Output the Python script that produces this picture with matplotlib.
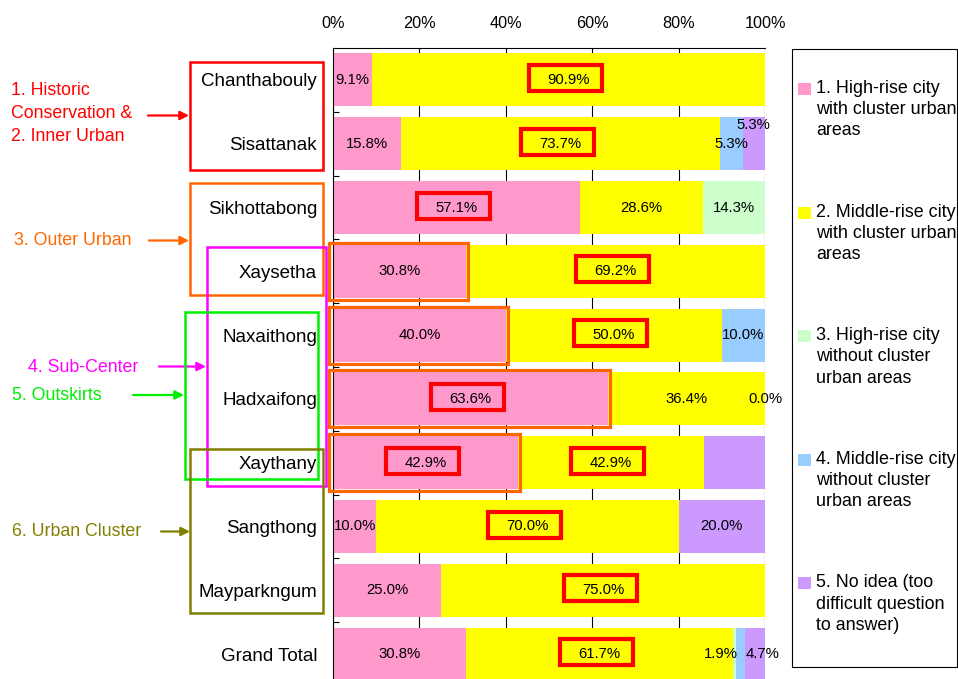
import matplotlib
matplotlib.use("Agg")
import matplotlib.pyplot as plt
from matplotlib.patches import Rectangle, FancyArrowPatch
import numpy as np

plt.rcParams['font.family'] = ['Liberation Sans', 'DejaVu Sans']

# ---- data -------------------------------------------------------------
categories = ["Chanthabouly", "Sisattanak", "Sikhottabong", "Xaysetha", "Naxaithong",
              "Hadxaifong", "Xaythany", "Sangthong", "Mayparkngum", "Grand Total"]

series_names = ["1. High-rise city\nwith cluster urban\nareas",
                "2. Middle-rise city\nwith cluster urban\nareas",
                "3. High-rise city\nwithout cluster\nurban areas",
                "4. Middle-rise city\nwithout cluster\nurban areas",
                "5. No idea (too\ndifficult question\nto answer)"]

high_cluster = [9.1, 15.8, 57.1, 30.8, 40.0, 63.6, 42.9, 10.0, 25.0, 30.8]
mid_cluster = [90.9, 73.7, 28.6, 69.2, 50.0, 36.4, 42.9, 70.0, 75.0, 61.7]
high_no_cluster = [0.0, 0.0, 14.3, 0.0, 0.0, 0.0, 0.0, 0.0, 0.0, 0.9]
mid_no_cluster = [0.0, 5.3, 0.0, 0.0, 10.0, 0.0, 0.0, 0.0, 0.0, 1.9]
no_idea = [0.0, 5.3, 0.0, 0.0, 0.0, 0.0, 14.3, 20.0, 0.0, 4.7]

series_colors = ["#FF99CC", "#FFFF00", "#CCFFCC", "#99CCFF", "#CC99FF"]

tick_values = [0, 20, 40, 60, 80, 100]
tick_labels = ["0%", "20%", "40%", "60%", "80%", "100%"]

# districts belonging to the sub-center group (high-rise share outlined)
subcenter_rows = ["Xaysetha", "Naxaithong", "Hadxaifong", "Xaythany"]

# value labels left out / zero values that still carry a label
hidden_labels = {("Xaythany", 4), ("Grand Total", 2)}
zero_labels = {("Hadxaifong", 3)}
# nudges for crowded labels (pixels)
label_nudge = {("Sisattanak", 4): (-1, 19), ("Grand Total", 3): (-20, 0),
               ("Grand Total", 4): (8, 0)}

# ---- figure -------------------------------------------------------------
W, H = 958, 679
fig = plt.figure(figsize=(W / 100, H / 100), dpi=100)

ax_left, ax_right, ax_top, ax_bottom = 333, 765, 48, 686
ax = fig.add_axes([ax_left / W, 1 - ax_bottom / H,
                   (ax_right - ax_left) / W, (ax_bottom - ax_top) / H])

series = [high_cluster, mid_cluster, high_no_cluster, mid_no_cluster, no_idea]
n = len(categories)
y = np.arange(n)
bar_h = 0.83

lefts = np.zeros(n)
starts = []
for vals, col in zip(series, series_colors):
    vals = np.array(vals)
    ax.barh(y, vals, left=lefts, height=bar_h, color=col, edgecolor='none', zorder=2)
    starts.append(lefts.copy())
    lefts = lefts + vals

ax.set_xlim(0, 100)
ax.set_ylim(n - 0.5, -0.5)

px_x = 100 / (ax_right - ax_left)          # data units per pixel (x)
px_y = n / (ax_bottom - ax_top)            # data units per pixel (y)

# value labels
for s, vals in enumerate(series):
    for i, cat in enumerate(categories):
        v = vals[i]
        if (v <= 0 and (cat, s) not in zero_labels) or (cat, s) in hidden_labels:
            continue
        cx = starts[s][i] + v / 2
        dx, dy = label_nudge.get((cat, s), (0, 0))
        ax.annotate(f"{v:.1f}%", (cx, i), xytext=(dx, dy), textcoords='offset pixels',
                    ha='center', va='center', fontsize=10.7, color='black', zorder=5,
                    annotation_clip=False)

# red frames on the largest share of each row
for i, cat in enumerate(categories):
    row = [vals[i] for vals in series]
    top = max(row)
    for s, v in enumerate(row):
        if v == top:
            cx = starts[s][i] + v / 2 - 3 * px_x
            cy = i - 2 * px_y
            bw, bh = 73 * px_x, 26 * px_y
            ax.add_patch(Rectangle((cx - bw / 2, cy - bh / 2), bw, bh, fill=False,
                                   edgecolor='#FF0000', lw=3, zorder=6, clip_on=False))

# orange outline around the high-rise share of sub-center districts
for cat in subcenter_rows:
    i = categories.index(cat)
    v = high_cluster[i]
    x0 = -4 * px_x
    x1 = v + 2 * px_x
    y0 = i - bar_h / 2 - 2 * px_y
    y1 = i + bar_h / 2 + 2 * px_y
    ax.add_patch(Rectangle((x0, y0), x1 - x0, y1 - y0, fill=False,
                           edgecolor='#FF6600', lw=2.3, zorder=6, clip_on=False))

# axes styling
ax.xaxis.tick_top()
ax.set_xticks(tick_values)
ax.set_xticklabels(tick_labels, fontsize=11.7)
ax.tick_params(axis='x', length=0, pad=12)
ax.xaxis.grid(True, color='black', lw=0.8)
ax.set_axisbelow(True)

ax.set_yticks(y)
ax.set_yticklabels(categories, fontsize=13.5)
ax.tick_params(axis='y', which='major', length=0, pad=11.5)
ax.set_yticks(np.arange(n - 1) + 0.5, minor=True)
ax.tick_params(axis='y', which='minor', direction='in', length=4.5, width=0.8, color='black')

for side in ['right', 'bottom']:
    ax.spines[side].set_visible(False)
for side in ['top', 'left']:
    ax.spines[side].set_color('black')
    ax.spines[side].set_linewidth(0.8)


# ---- helpers in figure pixels (origin top-left) --------------------------
def fxy(x, yy):
    return (x / W, 1 - yy / H)


def frame(x0, y0, x1, y1, color, lw=1.8):
    fig.add_artist(Rectangle(fxy(x0, y1), (x1 - x0) / W, (y1 - y0) / H, fill=False,
                             edgecolor=color, lw=lw, transform=fig.transFigure))


def arrow(x0, x1, yy, color):
    fig.add_artist(FancyArrowPatch(fxy(x0, yy), fxy(x1, yy), transform=fig.transFigure,
                                   arrowstyle='-|>', mutation_scale=13, color=color,
                                   lw=1.6, shrinkA=0, shrinkB=0))


# ---- zone annotations on the left -----------------------------------------
zones = [
    ("1. Historic\nConservation &\n2. Inner Urban", '#FF0000', 11, 113.5, (148, 189, 115.5),
     (190, 62, 323, 170)),
    ("3. Outer Urban", '#FF6600', 14, 240, (149, 189, 240.5), (190, 183, 323, 295)),
    ("4. Sub-Center", '#FF00FF', 28, 367, (159, 206, 366.5), (207, 247, 326, 486)),
    ("5. Outskirts", '#00EE00', 12, 395, (133, 184, 395), (185, 312, 318, 479)),
    ("6. Urban Cluster", '#808000', 12, 532, (161, 190, 531.5), (190, 449, 323, 613)),
]
for text, col, tx, ty, (a0, a1, ay), (bx0, by0, bx1, by1) in zones:
    fig.text(*fxy(tx, ty), text, color=col, fontsize=12.8, ha='left', va='center',
             linespacing=1.44)
    arrow(a0, a1, ay, col)
    frame(bx0, by0, bx1, by1, col)

# ---- legend ---------------------------------------------------------------
frame(792, 49, 957, 667, 'black', lw=0.8)
for k, (name, col) in enumerate(zip(series_names, series_colors)):
    cy = 89 + k * 123.6
    fig.add_artist(Rectangle(fxy(798, cy + 6), 13 / W, 12 / H, facecolor=col,
                             edgecolor='none', transform=fig.transFigure))
    fig.text(*fxy(816, cy - 9), name, fontsize=12.9, ha='left', va='top',
             linespacing=1.32, color='black')

fig.savefig("out.png", dpi=100)
